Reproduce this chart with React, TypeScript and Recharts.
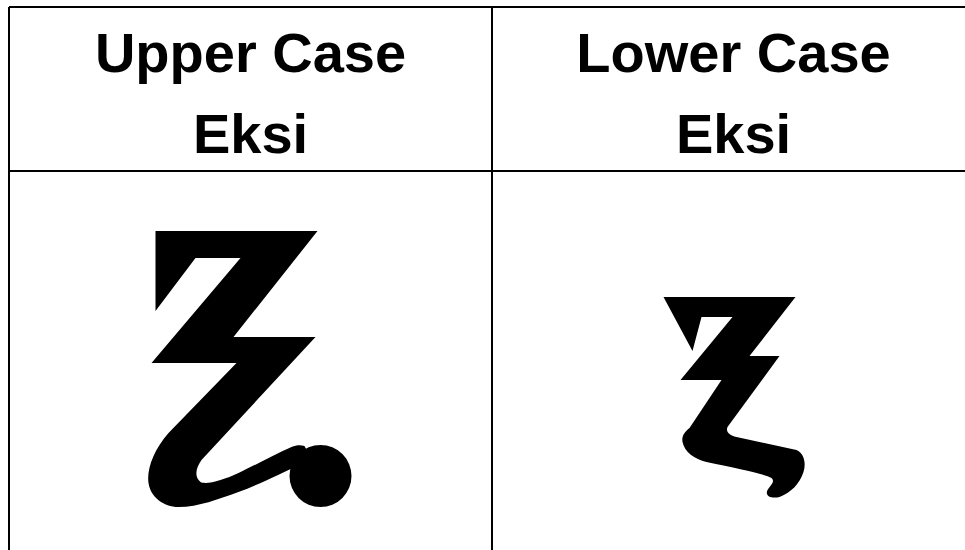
import React from "react";
import { ScatterChart, Scatter, XAxis, YAxis, ReferenceLine } from "recharts";

// table columns and what goes in them
const headers = ["Upper Case", "Lower Case"];
const subHeaders = ["Eksi", "Eksi"];
const glyphKinds = ["upper", "lower"];
const columnPos = [0.5, 1.5];
const headerBaseline = [72, 72];
const glyphCenter = [369, 397];

// grid lines of the table (x in column units, y in layout rows)
const columnEdges = [0, 1, 2];
const rowEdges = [7, 171];

const headerData = headers.map((h, i) => ({
  col: columnPos[i],
  row: headerBaseline[i],
  label: h,
  sub: subHeaders[i],
}));

const glyphData = glyphKinds.map((k, i) => ({
  col: columnPos[i],
  row: glyphCenter[i],
  kind: k,
}));

// glyph outlines, drawn around their own centre
const UPPER_CENTER = [252, 369];
const UPPER_PATH =
  "M157 231 L319 231 L235 337 L317 337 L203 460 " +
  "C198 467 195 476 202 482 C208 485 225 480 240 473 " +
  "C255 466 275 455 293 447 C298 445 302 445 306 446 " +
  "L322 476 L297 467 " +
  "C285 472 262 484 240 492 C220 499 200 507 180 507 " +
  "C165 507 152 497 150 483 C148 470 155 450 170 433 " +
  "L238 363 L153 363 L242 258 L197 258 L157 311 Z";

const LOWER_CENTER = [734, 397];
const LOWER_PATH =
  "M664 297 L796 297 L750 356 L780 356 L728 427 " +
  "C726 432 730 435 737 437 L797 450 " +
  "C804 453 807 462 804 472 C800 484 792 492 780 497 " +
  "C772 499 765 496 768 490 C771 485 776 482 772 478 " +
  "C765 474 740 469 707 462 C695 459 685 452 683 442 " +
  "C682 436 685 432 690 428 L722 380 L681 380 L733 317 L702 317 L693 351 Z";

const font = '"Comic Sans MS", "Liberation Sans", Arial, sans-serif';

function HeaderShape(props: any) {
  const { cx, cy, payload } = props;
  return (
    <text
      x={cx}
      y={cy}
      textAnchor="middle"
      fontFamily={font}
      fontWeight="bold"
      fontSize={56}
      fill="#000"
    >
      <tspan x={cx}>{payload.label}</tspan>
      <tspan x={cx} dy={81}>
        {payload.sub}
      </tspan>
    </text>
  );
}

function GlyphShape(props: any) {
  const { cx, cy, payload } = props;
  if (payload.kind === "upper") {
    return (
      <g transform={`translate(${cx - UPPER_CENTER[0]}, ${cy - UPPER_CENTER[1]})`}>
        <path d={UPPER_PATH} fill="#000" />
        <circle cx={322} cy={476} r={31} fill="#000" />
      </g>
    );
  }
  return (
    <g transform={`translate(${cx - LOWER_CENTER[0]}, ${cy - LOWER_CENTER[1]})`}>
      <path d={LOWER_PATH} fill="#000" />
    </g>
  );
}

export default function App() {
  return (
    <div
      style={{
        position: "fixed",
        left: 0,
        top: 0,
        width: 965,
        height: 550,
        overflow: "hidden",
        background: "#fff",
      }}
    >
      <ScatterChart
        width={975}
        height={550}
        margin={{ top: 7, right: 0, bottom: 0, left: 9 }}
      >
        <XAxis type="number" dataKey="col" domain={[0, 2]} hide />
        <YAxis type="number" dataKey="row" domain={[7, 550]} reversed hide />
        {columnEdges.map((x) => (
          <ReferenceLine key={`c${x}`} x={x} stroke="#000" strokeWidth={2} />
        ))}
        {rowEdges.map((y) => (
          <ReferenceLine key={`r${y}`} y={y} stroke="#000" strokeWidth={2} />
        ))}
        <Scatter data={headerData} shape={HeaderShape} isAnimationActive={false} />
        <Scatter data={glyphData} shape={GlyphShape} isAnimationActive={false} />
      </ScatterChart>
    </div>
  );
}
